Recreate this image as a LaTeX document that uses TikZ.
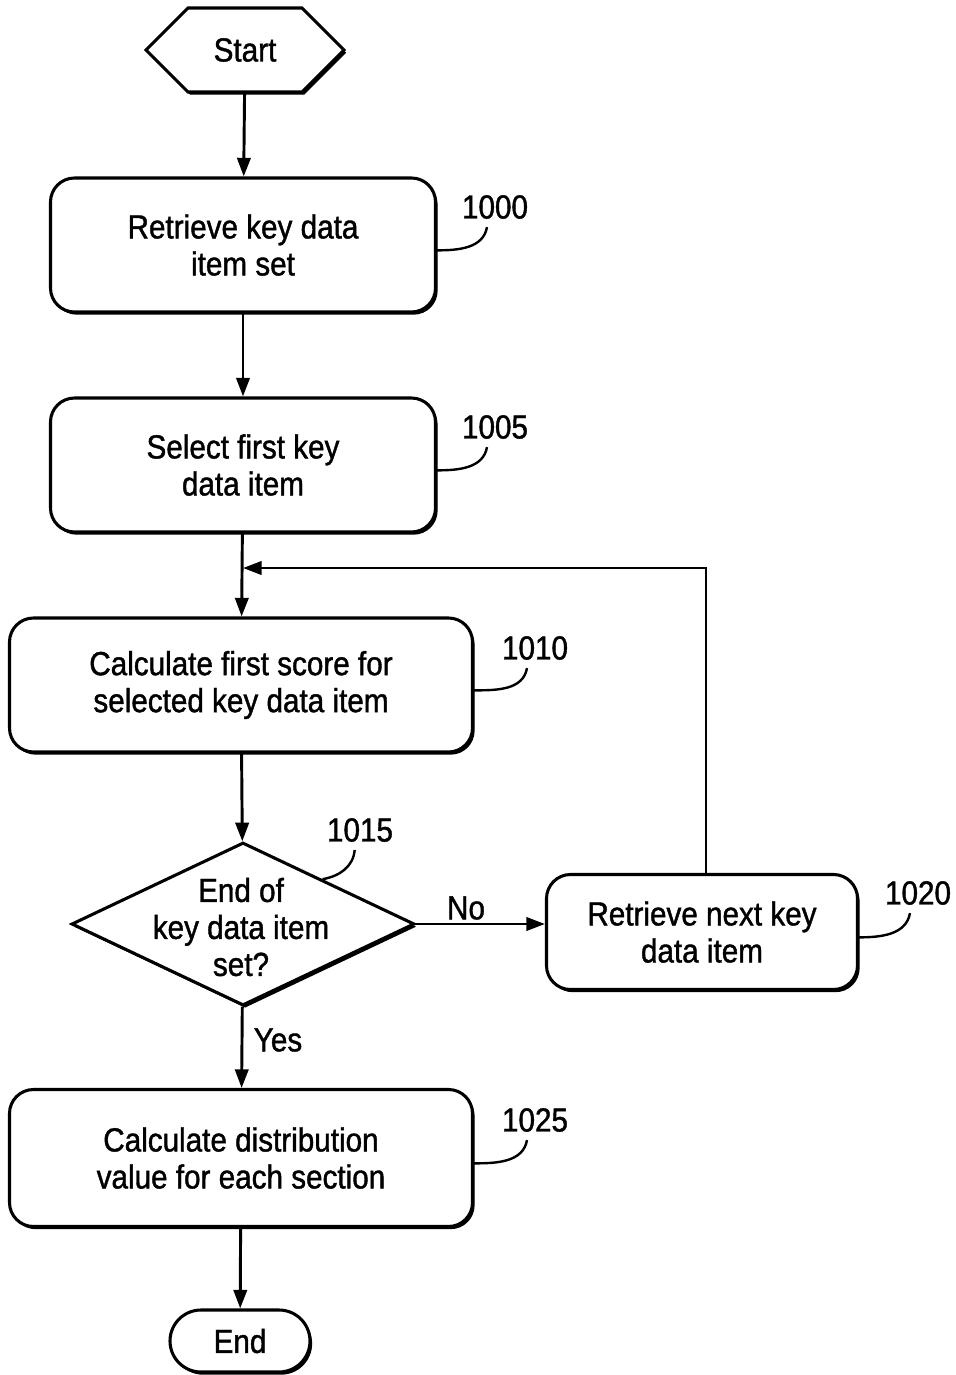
\documentclass[tikz,border=0pt]{standalone}
\usepackage{fontspec}
\setmainfont{Liberation Sans}[FakeStretch=0.89,FakeBold=1.2]
\usetikzlibrary{shapes.geometric,shapes.symbols,shapes.misc,shadows,arrows.meta,calc}
\begin{document}
\begin{tikzpicture}[x=0.75pt,y=-0.75pt,
  font=\fontsize{25pt}{27.75pt}\selectfont,
  shd/.style={drop shadow={shadow xshift=1.6pt,shadow yshift=-2pt,opacity=1,fill=black}},
  box/.style={draw,line width=2.3pt,rounded corners=18pt,fill=white,shd,align=center,inner sep=0pt},
  arr/.style={line width=2.2pt,-{Triangle[length=14pt,width=10pt]}},
  lead/.style={line width=1.8pt},
  num/.style={inner sep=0pt}]
\path[use as bounding box] (0,0) rectangle (956,1375);

\node[signal,signal to=west and east,signal pointer angle=90,draw,line width=2.3pt,fill=white,shd,
  minimum width=148.5pt,minimum height=63pt,inner sep=0pt] (start) at (245,50) {Start};

\node[box,minimum width=288.75pt,minimum height=100.5pt] (b1000) at (243,245) {Retrieve key data\\item set};
\node[box,minimum width=288.75pt,minimum height=100.5pt] (b1005) at (243,465) {Select first key\\data item};
\node[box,minimum width=347.25pt,minimum height=100.5pt] (b1010) at (241,685) {Calculate first score for\\selected key data item};
\node[diamond,draw,line width=2.3pt,fill=white,shd,minimum width=257.25pt,minimum height=122.25pt,inner sep=0pt] (dec) at (243,924) {};
\node[align=center,inner sep=0pt] (dect) at (241,927) {End of\\key data item\\set?};
\node[box,minimum width=233.25pt,minimum height=86.25pt] (b1020) at (702,932) {Retrieve next key\\data item};
\node[box,minimum width=347.25pt,minimum height=102.75pt] (b1025) at (241,1158) {Calculate distribution\\value for each section};
\node[rounded rectangle,draw,line width=2.3pt,fill=white,shd,minimum width=105pt,minimum height=46.5pt,inner sep=0pt] (end) at (240,1341) {End};

\node[num] (l1000) at (495,207) {1000};
\node[num] (l1005) at (495,427) {1005};
\node[num] (l1010) at (535,648) {1010};
\node[num] (l1015) at (360,830) {1015};
\node[num] (l1020) at (918,893) {1020};
\node[num] (l1025) at (535,1120) {1025};

\node[num] (no) at (466,908) {No};
\node[num] (yes) at (278,1040) {Yes};

\draw[arr] (start) -- (b1000);
\draw[arr] (b1000) -- (b1005);
\draw[arr] (b1005) -- (b1010);
\draw[arr] (b1010) -- (dec);
\draw[arr] (dec.east) -- (dec.east -| b1020.west);
\draw[arr] (dec) -- (b1025);
\draw[arr] (b1025) -- (end);
\coordinate (join) at (243,568);
\draw[arr] ([xshift=3pt]b1020.north) |- (join);

\draw[lead] ([yshift=-4pt]b1000.east) to[out=0,in=-100] ([xshift=-6pt,yshift=-6pt]l1000.south);
\draw[lead] ([yshift=-4pt]b1005.east) to[out=0,in=-100] ([xshift=-6pt,yshift=-6pt]l1005.south);
\draw[lead] ([yshift=-4pt]b1010.east) to[out=0,in=-100] ([xshift=-6pt,yshift=-6pt]l1010.south);
\draw[lead] ($(dec.north)!0.46!(dec.east)$) to[out=10,in=-95] ([xshift=-4pt,yshift=-6pt]l1015.south);
\draw[lead] ([yshift=-4pt]b1020.east) to[out=0,in=-100] ([xshift=-6pt,yshift=-6pt]l1020.south);
\draw[lead] ([yshift=-4pt]b1025.east) to[out=0,in=-100] ([xshift=-6pt,yshift=-6pt]l1025.south);
\end{tikzpicture}
\end{document}
